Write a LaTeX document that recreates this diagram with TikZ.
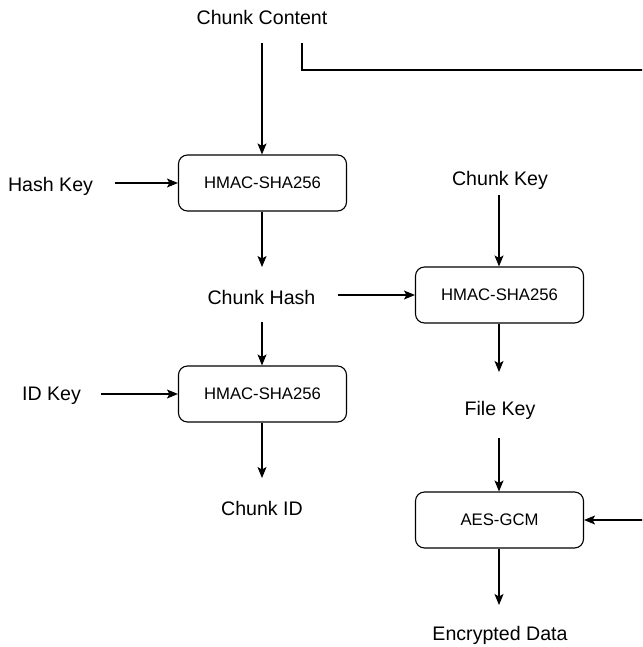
\documentclass[tikz,border=0pt]{standalone}
\usepackage{fontspec}
\setmainfont{Liberation Sans}
\usetikzlibrary{arrows.meta}
\begin{document}
\begin{tikzpicture}[x=1pt,y=-1pt,
  box/.style={draw, line width=1.1pt, rounded corners=9pt, minimum width=168pt, minimum height=56pt, font=\fontsize{16.7}{19}\selectfont, inner sep=0pt},
  lbl/.style={font=\fontsize{19.6}{23}\selectfont, inner sep=0pt},
  arr/.style={line width=1.1pt, -{Stealth[length=11pt,width=9pt,inset=2.5pt]}}]
\useasboundingbox (0,0) rectangle (642,647);
\clip (0,0) rectangle (642,647);
\fill[white] (0,0) rectangle (642,647);
% nodes
\node[lbl] (cc) at (262,17) {Chunk Content};
\node[lbl] (hk) at (50.5,186) {Hash Key};
\node[box] (b1) at (262.5,183) {HMAC-SHA256};
\node[lbl] (ch) at (261.5,297) {Chunk Hash};
\node[lbl] (ck) at (500,180) {Chunk Key};
\node[box] (b3) at (499.5,295) {HMAC-SHA256};
\node[lbl] (idk) at (51.5,396) {ID Key};
\node[box] (b2) at (262.5,394) {HMAC-SHA256};
\node[lbl] (fk) at (500,410) {File Key};
\node[lbl] (cid) at (262,508) {Chunk ID};
\node[box] (b4) at (499.5,520) {AES-GCM};
\node[lbl] (ed) at (500,635) {Encrypted Data};
% connector endpoints
\coordinate (ccA) at (262,43);
\coordinate (ccB) at (302,43);
\coordinate (ccTurn) at (660,70);
\coordinate (ccDown) at (660,520);
\coordinate (hkE) at (115,183);
\coordinate (idkE) at (101,394);
\coordinate (chIn) at (262,267);
\coordinate (chOutR) at (338,295);
\coordinate (chOutD) at (262,322);
\coordinate (ckS) at (499,195);
\coordinate (cidIn) at (262,478);
\coordinate (fkIn) at (499,372);
\coordinate (fkOut) at (499,438);
\coordinate (edIn) at (499,605);
% connectors
\draw[arr] (ccA) -- (b1.north -| ccA);
\draw[arr] (ccB) |- (ccTurn) -- (ccDown) -- (b4.east);
\draw[arr] (hkE) -- (b1.west);
\draw[arr] (b1.south -| chIn) -- (chIn);
\draw[arr] (chOutR) -- (b3.west);
\draw[arr] (ckS) -- (b3.north -| ckS);
\draw[arr] (chOutD) -- (b2.north -| chOutD);
\draw[arr] (idkE) -- (b2.west);
\draw[arr] (b2.south -| cidIn) -- (cidIn);
\draw[arr] (b3.south -| fkIn) -- (fkIn);
\draw[arr] (fkOut) -- (b4.north -| fkOut);
\draw[arr] (b4.south -| edIn) -- (edIn);
\end{tikzpicture}
\end{document}
